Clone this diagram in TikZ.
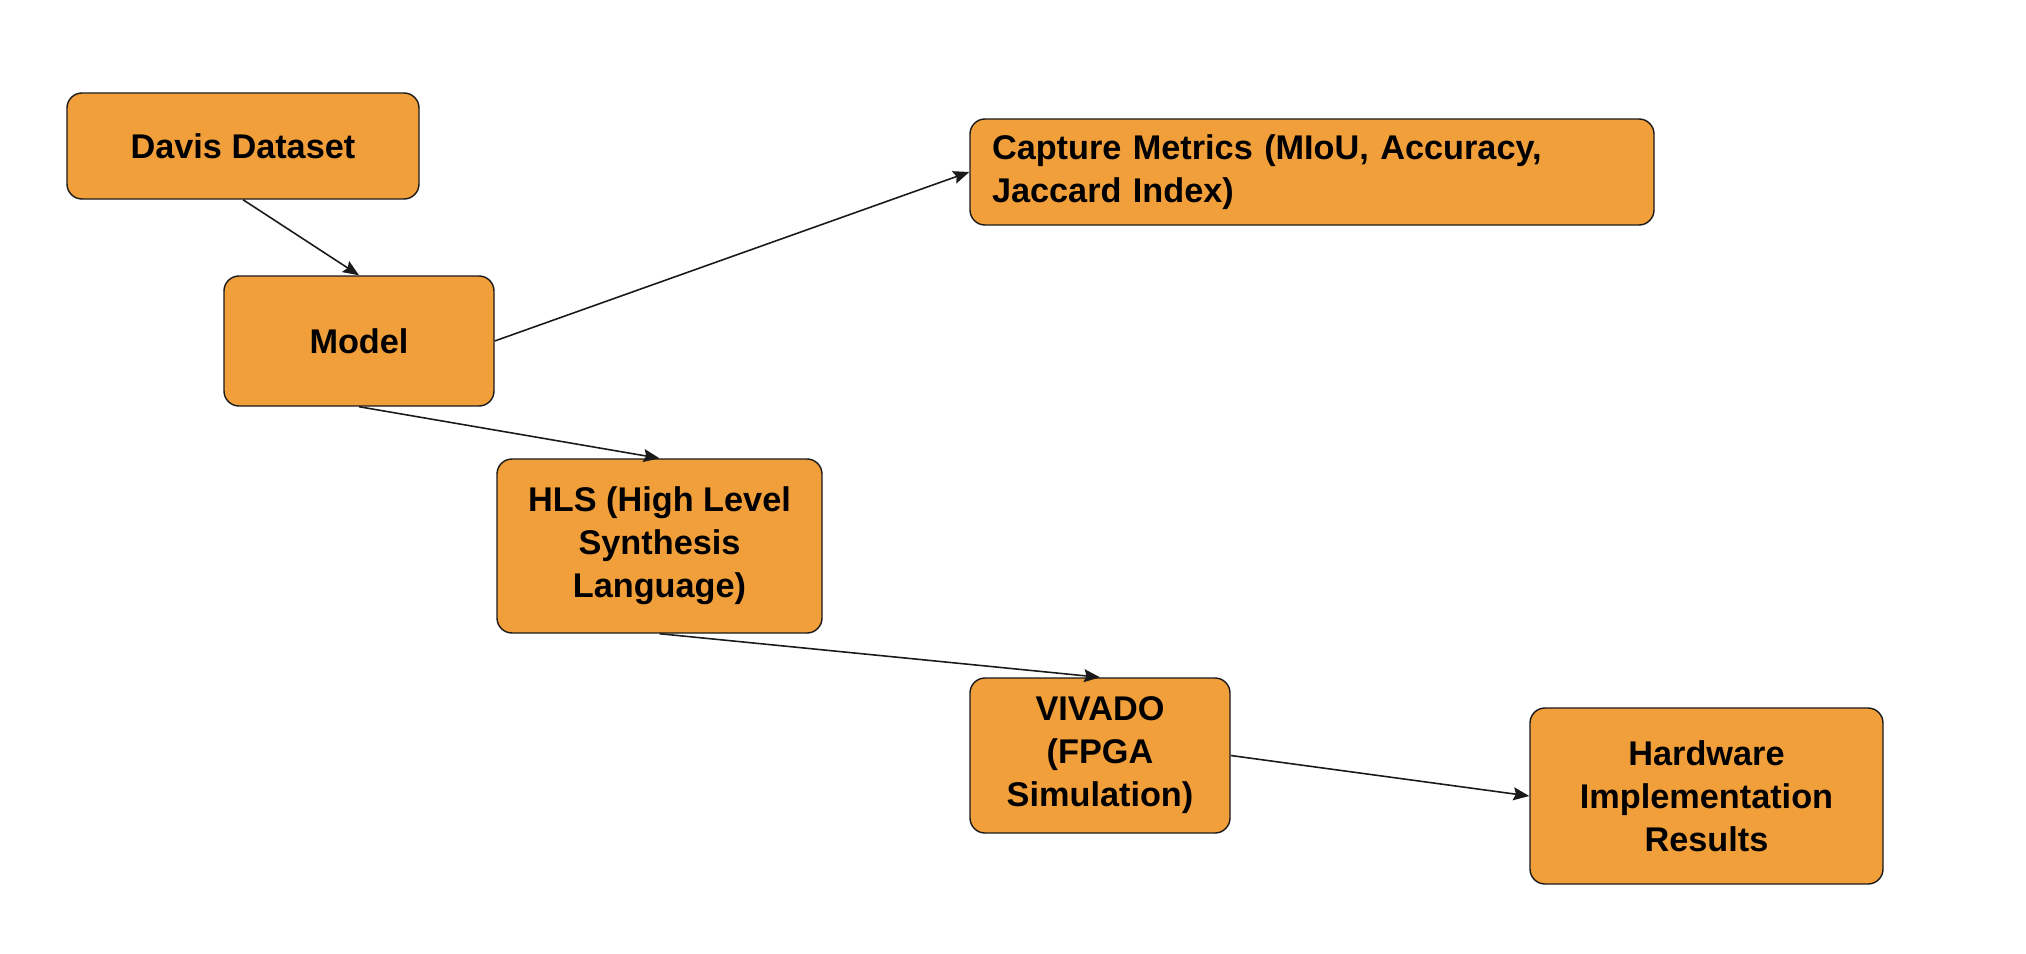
\documentclass[tikz,border=0pt]{standalone}
\usepackage{fontspec}
\setmainfont{Liberation Sans}
\usetikzlibrary{arrows.meta}
\definecolor{boxfill}{HTML}{F19F3B}
\definecolor{edgeline}{HTML}{1A1A1A}
\newcommand{\boxfont}{\bfseries\fontsize{19.5}{24.5}\selectfont}

\begin{document}
\begin{tikzpicture}[
	blockbox/.style={draw=edgeline, line width=0.8pt, fill=boxfill, rounded corners=0.3cm, inner sep=0pt, align=center, font=\boxfont},
	flow/.style={draw=edgeline, line width=0.9pt, -{Stealth[length=0.32cm, width=0.26cm, inset=0.05cm]}}
]
	\useasboundingbox (0,0) rectangle (40.52,-19.08);
	\node[blockbox, minimum width=7.04cm, minimum height=2.12cm] (davis) at (4.86,-2.92) {Davis Dataset};
	\node[blockbox, minimum width=5.4cm, minimum height=2.6cm] (model) at (7.18,-6.82) {Model};
	\node[blockbox, align=left, text width=12.8cm, inner xsep=0.44cm, minimum height=2.12cm] (capture) at (26.24,-3.44) {Capture Metrics (MIoU, Accuracy,\\Jaccard Index)};
	\node[blockbox, minimum width=6.5cm, minimum height=3.48cm] (hls) at (13.19,-10.92) {HLS (High Level\\Synthesis\\Language)};
	\node[blockbox, minimum width=5.2cm, minimum height=3.1cm] (vivado) at (22.0,-15.11) {VIVADO\\(FPGA\\Simulation)};
	\node[blockbox, minimum width=7.06cm, minimum height=3.52cm] (hw) at (34.13,-15.92) {Hardware\\Implementation\\Results};

	\draw[flow] (davis.south) -- (model.north);
	\draw[flow] (model.east) -- (capture.west);
	\draw[flow] (model.south) -- (hls.north);
	\draw[flow] (hls.south) -- (vivado.north);
	\draw[flow] (vivado.east) -- (hw.west);
\end{tikzpicture}
\end{document}
